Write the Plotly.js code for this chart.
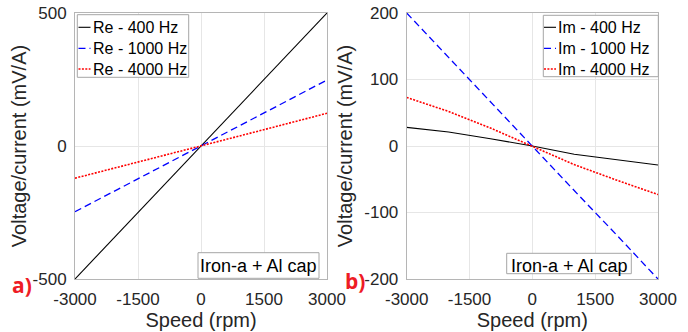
<!DOCTYPE html>
<html><head><meta charset="utf-8">
<script src="https://cdn.plot.ly/plotly-3.0.1.min.js"></script>
<style>html,body{margin:0;padding:0;background:#fff}#chart{width:688px;height:332px}</style>
</head><body><div id="chart"></div>
<script>
// ---- data ----
const speed = [-3000, -2000, -1000, 0, 1000, 2000, 3000];
const re400  = [-500, -333, -167, 0, 167, 333, 500];
const re1000 = [-247, -165, -82, 0, 82, 165, 248];
const re4000 = [-121, -81, -40, 0, 41, 82, 123];
const im400  = [28, 21, 11, 0, -12.5, -21, -28.5];
const im1000 = [200, 133, 67, 0, -67, -133, -200];
const im4000 = [73, 52, 27, 0, -28, -51, -73];
const reNames = ['Re - 400 Hz', 'Re - 1000 Hz', 'Re - 4000 Hz'];
const imNames = ['Im - 400 Hz', 'Im - 1000 Hz', 'Im - 4000 Hz'];
const xTicks = [-3000, -1500, 0, 1500, 3000];
const xTickText = ['-3000', '-1500', '0', '1500', '3000'];
const reTicks = [-500, 0, 500];
const reTickText = ['-500', '0', '500'];
const imTicks = [-200, -100, 0, 100, 200];
const imTickText = ['-200', '-100', '0', '100', '200'];
const panelLabels = ['a)', 'b)'];
const boxText = 'Iron-a + Al cap';
const xTitle = 'Speed (rpm)';
const yTitle = 'Voltage/current (mV/A)';

// ---- styles ----
const W = 688, H = 332;
const M = {l: 75, r: 30, t: 13, b: 53};
const pw = W - M.l - M.r, ph = H - M.t - M.b;
const px = x => (x - M.l) / pw;
const py = y => 1 - (y - M.t) / ph;
const colors = ['#000000', '#0000ff', '#ff0000'];
const dashes = ['solid', '7px,4px', '2px,1.4px'];
const widths = [1.1, 1.3, 1.6];
const FONT = 'Liberation Sans, Arial, Helvetica, sans-serif';
const txtColor = '#262626';

const reSeries = [re400, re1000, re4000];
const imSeries = [im400, im1000, im4000];
const traces = [];
reSeries.forEach((ys, i) => traces.push({x: speed, y: ys, xaxis: 'x', yaxis: 'y', name: reNames[i], mode: 'lines',
  line: {color: colors[i], width: widths[i], dash: dashes[i]}, showlegend: false}));
imSeries.forEach((ys, i) => traces.push({x: speed, y: ys, xaxis: 'x2', yaxis: 'y2', name: imNames[i], mode: 'lines',
  line: {color: colors[i], width: widths[i], dash: dashes[i]}, showlegend: false}));

const axBase = {showgrid: true, gridcolor: '#e6e6e6', gridwidth: 1, zeroline: false, showline: true,
  linecolor: '#b5b5b5', linewidth: 1, mirror: true, ticks: '', tickfont: {family: FONT, size: 17, color: txtColor}};
const xAx = (dom, anchor) => Object.assign({}, axBase, {domain: dom, anchor: anchor, range: [-3000, 3000],
  tickmode: 'array', tickvals: xTicks, ticktext: xTickText, ticklabelstandoff: 5,
  title: {text: xTitle, font: {family: FONT, size: 20, color: txtColor}, standoff: 4}});
const yAx = (anchor, rng, tv, tt, so) => Object.assign({}, axBase, {domain: [0, 1], anchor: anchor, range: rng,
  tickmode: 'array', tickvals: tv, ticktext: tt, ticklabelstandoff: 4,
  title: {text: yTitle, font: {family: FONT, size: 20, color: txtColor}, standoff: so}});

const shapes = [], annotations = [];
// legend boxes built from names
function legend(names, box, sx0, sx1, tx, rows) {
  shapes.push({type: 'rect', xref: 'paper', yref: 'paper', x0: px(box[0]), x1: px(box[2]), y0: py(box[3]), y1: py(box[1]),
    line: {color: '#a6a6a6', width: 1}, fillcolor: '#ffffff', layer: 'above'});
  names.forEach((n, i) => {
    shapes.push({type: 'line', xref: 'paper', yref: 'paper', x0: px(sx0), x1: px(sx1), y0: py(rows[i]), y1: py(rows[i]),
      line: {color: colors[i], width: widths[i], dash: dashes[i]}, layer: 'above'});
    annotations.push({xref: 'paper', yref: 'paper', x: px(tx), y: py(rows[i]), xanchor: 'left', yanchor: 'middle',
      text: n, showarrow: false, borderpad: 0, font: {family: FONT, size: 16, color: '#000000'}});
  });
}
legend(reNames, [77.3, 14.7, 188.7, 77.3], 78.5, 90.5, 91.5, [27.3, 48.3, 69]);
legend(imNames, [543.3, 15.3, 658.3, 76.7], 544, 556, 557, [27.3, 48.3, 69]);

// "Iron-a + Al cap" boxes
[[198, 252.7, 319, 278.3, 258.5], [506.7, 253.3, 631.3, 273.7, 569]].forEach(b => {
  shapes.push({type: 'rect', xref: 'paper', yref: 'paper', x0: px(b[0]), x1: px(b[2]), y0: py(b[3]), y1: py(b[1]),
    line: {color: '#a6a6a6', width: 1}, fillcolor: '#ffffff', layer: 'above'});
  annotations.push({xref: 'paper', yref: 'paper', x: px(b[4]), y: py(266), xanchor: 'center', yanchor: 'middle',
    text: boxText, showarrow: false, borderpad: 0, font: {family: FONT, size: 18, color: '#000000'}});
});

// panel labels
[[22, 285], [355, 280.5]].forEach((p, i) => {
  annotations.push({xref: 'paper', yref: 'paper', x: px(p[0]), y: py(p[1]), xanchor: 'center', yanchor: 'middle',
    text: '<b>' + panelLabels[i] + '</b>', showarrow: false, borderpad: 0,
    font: {family: 'Open Sans, Liberation Sans, sans-serif', size: 21, color: '#ee1c25'}});
});

const layout = {
  width: W, height: H, margin: M, paper_bgcolor: '#ffffff', plot_bgcolor: '#ffffff', showlegend: false,
  xaxis: xAx([0, (327 - 75) / pw], 'y'),
  yaxis: yAx('x', [-500, 500], reTicks, reTickText, 0),
  xaxis2: xAx([(406.7 - 75) / pw, 1], 'y2'),
  yaxis2: yAx('x2', [-200, 200], imTicks, imTickText, 6),
  shapes: shapes, annotations: annotations
};
Plotly.newPlot('chart', traces, layout, {staticPlot: true, displayModeBar: false});
</script></body></html>
